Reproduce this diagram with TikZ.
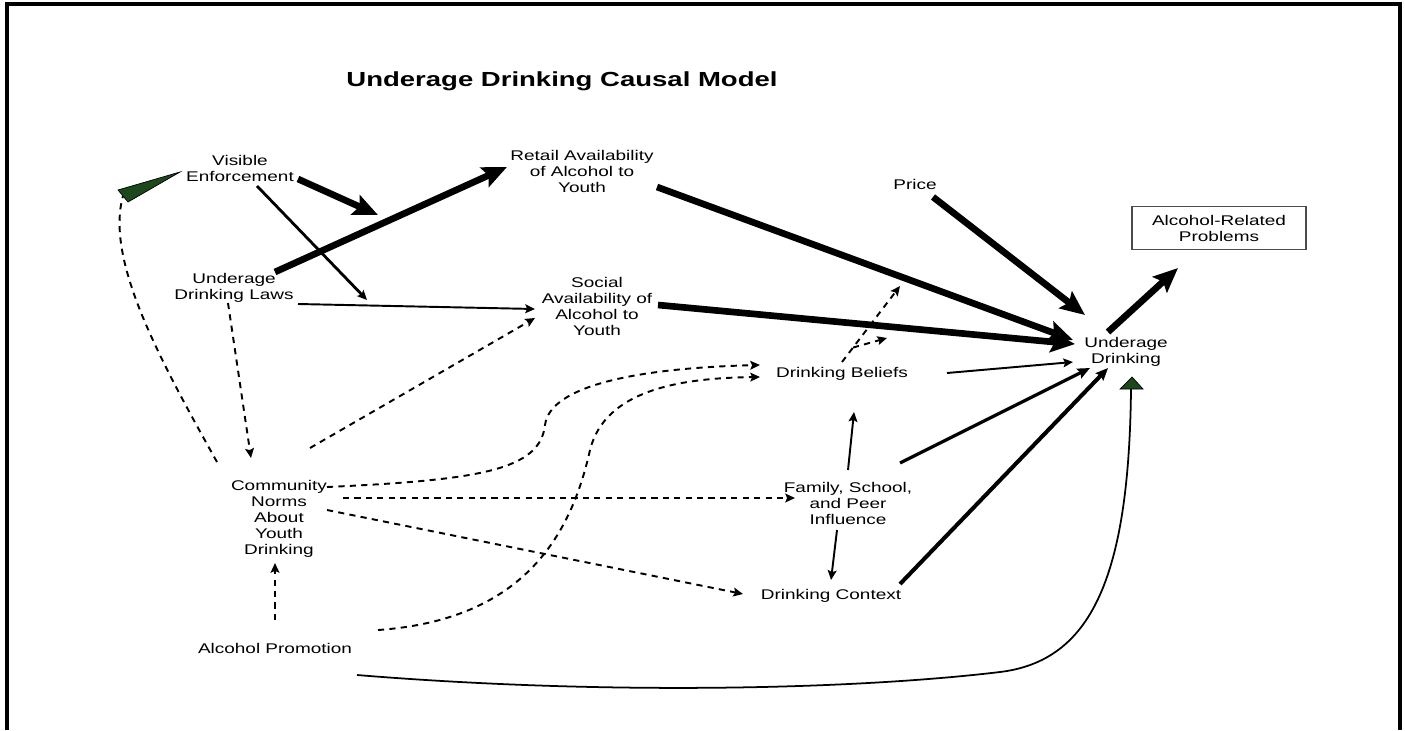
\documentclass[tikz,border=0pt]{standalone}
\usepackage{tikz}
\usepackage{xcolor}
\usepackage{fontspec}
\setmainfont{Liberation Sans}[FakeStretch=1.35]
\usetikzlibrary{arrows.meta}
\definecolor{arrowgreen}{RGB}{28,72,28}

\begin{document}
\begin{tikzpicture}[x=0.02cm, y=-0.02cm,
  lbl/.style={align=center, inner sep=1pt, font=\fontsize{8}{9.1}\selectfont},
  bigarr/.style={line width=3.8pt, -{Stealth[length=14pt,width=12pt,inset=2.5pt]}},
  midarr/.style={line width=2pt, -{Stealth[length=7pt,width=6pt,inset=1pt]}},
  thinarr/.style={line width=1.1pt, -{Stealth[length=5.5pt,width=5pt,inset=1pt]}},
  dasharr/.style={thinarr, dash pattern=on 3.5pt off 3pt},
  greenhead/.style={fill=arrowgreen, draw=black, line width=0.4pt}]
\useasboundingbox (0,0) rectangle (1405,730);
% frame
\draw[line width=1.8pt] (7,730) -- (7,4) -- (1400,4) -- (1400,730);
\node[font=\bfseries\fontsize{11.6}{14}\selectfont] (title) at (562,81) {Underage Drinking Causal Model};

% factors
\node[lbl] (visible) at (240,168) {Visible\\Enforcement};
\node[lbl] (laws) at (234,288) {Underage\\Drinking Laws};
\node[lbl] (retail) at (582,171) {Retail Availability\\of Alcohol to\\Youth};
\node[lbl] (social) at (597,306) {Social\\Availability of\\Alcohol to\\Youth};
\node[lbl] (price) at (915,184) {Price};
\node[lbl] (beliefs) at (842,374) {Drinking Beliefs};
\node[lbl] (family) at (848,503) {Family, School,\\and Peer\\Influence};
\node[lbl] (context) at (831,596) {Drinking Context};
\node[lbl] (norms) at (279,519) {Community\\Norms\\About\\Youth\\Drinking};
\node[lbl] (promo) at (275,648) {Alcohol Promotion};

% outcomes
\node[lbl] (udrink) at (1126,352) {Underage\\Drinking};
\node[lbl, draw=black!70, line width=0.8pt, minimum width=3.48cm, minimum height=0.86cm] (problems) at (1219,228) {Alcohol-Related\\Problems};

% free ends on other arrows
\coordinate (mod1) at (378,215);
\coordinate (mod2) at (367,300);
\coordinate (mod3) at (900,286);
\coordinate (mod4) at (887,338);

% enforcement and laws
\draw[bigarr] ([shift={(58,11)}]visible.center) -- (mod1);
\draw[thinarr, line width=1.6pt] ([shift={(17,18)}]visible.center) -- (mod2);
\draw[bigarr] ([shift={(41,-16)}]laws.center) -- ([shift={(-75,-4)}]retail.center);
\draw[thinarr] ([shift={(64,16)}]laws.center) -- ([shift={(-62,3)}]social.center);
\draw[dasharr] ([shift={(-6,15)}]laws.center) -- ([shift={(-28,-61)}]norms.center);

% into underage drinking
\draw[bigarr] ([shift={(75,16)}]retail.center) -- ([shift={(-53,-12)}]udrink.center);
\draw[bigarr] ([shift={(18,13)}]price.center) -- ([shift={(-41,-37)}]udrink.center);
\draw[bigarr] ([shift={(61,-1)}]social.center) -- ([shift={(-51,-8)}]udrink.center);
\draw[bigarr] ([shift={(-18,-20)}]udrink.center) -- ([shift={(-41,40)}]problems.center);
\draw[thinarr] ([shift={(105,-1)}]beliefs.center) -- ([shift={(-53,10)}]udrink.center);
\draw[midarr, line width=1.8pt] ([shift={(52,-40)}]family.center) -- ([shift={(-36,16)}]udrink.center);
\draw[midarr, line width=2.3pt] ([shift={(69,-12)}]context.center) -- ([shift={(-18,16)}]udrink.center);

% beliefs, family, context
\draw[thinarr] ([shift={(0,-33)}]family.center) -- ([shift={(12,38)}]beliefs.center);
\draw[thinarr] ([shift={(-11,27)}]family.center) -- ([shift={(0,-16)}]context.center);
\draw[dasharr] ([shift={(0,-12)}]beliefs.center) -- coordinate[pos=0.19] (fork) (mod3);
\draw[dasharr] (fork) -- (mod4);

% community norms
\draw[dasharr] ([shift={(48,-32)}]norms.center) .. controls (480,480) and (540,470) .. (545,425)
  .. controls (550,385) and (640,368) .. ([shift={(-82,-9)}]beliefs.center);
\draw[dasharr] ([shift={(64,-21)}]norms.center) -- ([shift={(-53,-5)}]family.center);
\draw[dasharr] ([shift={(48,-9)}]norms.center) -- ([shift={(-88,-2)}]context.center);
\draw[dasharr] ([shift={(31,-71)}]norms.center) -- ([shift={(-62,12)}]social.center);
\draw[dash pattern=on 3.5pt off 3pt, line width=1.1pt] ([shift={(-62,-57)}]norms.center)
  .. controls (160,360) and (105,260) .. ([shift={(-117,28)}]visible.center);
\filldraw[greenhead] ([shift={(-122,22)}]visible.center) -- ([shift={(-60,4)}]visible.center)
  -- ([shift={(-112,34)}]visible.center) -- cycle;

% alcohol promotion
\draw[dasharr] ([shift={(0,-28)}]promo.center) -- ([shift={(-4,44)}]norms.center);
\draw[dasharr] ([shift={(103,-18)}]promo.center) .. controls (520,620) and (570,540) .. (590,450)
  .. controls (605,390) and (680,378) .. ([shift={(-82,3)}]beliefs.center);
\draw[line width=1pt] ([shift={(82,27)}]promo.center) .. controls (600,695) and (850,690) .. (1000,672)
  .. controls (1090,661) and (1129,580) .. ([shift={(5,37)}]udrink.center);
\filldraw[greenhead] ([shift={(6,25)}]udrink.center) -- ([shift={(-6,37)}]udrink.center)
  -- ([shift={(17,37)}]udrink.center) -- cycle;
\end{tikzpicture}
\end{document}
